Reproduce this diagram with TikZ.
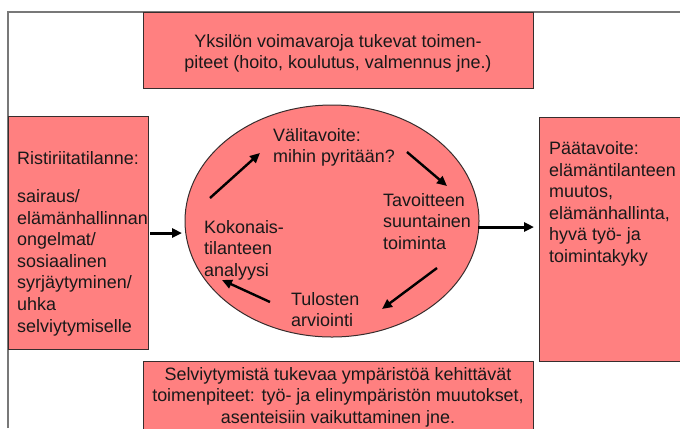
\documentclass[tikz,border=0pt]{standalone}
\usepackage{fontspec}
\setmainfont{Liberation Sans}
\usetikzlibrary{arrows.meta,shapes.geometric}
\definecolor{boxpink}{RGB}{255,128,128}
\definecolor{edgecol}{RGB}{55,45,45}
\definecolor{framegray}{RGB}{120,120,120}
\begin{document}
\begin{tikzpicture}[x=1bp,y=-1bp,
  box/.style={draw=edgecol, line width=1bp, fill=boxpink, inner sep=0pt},
  txt/.style={font=\fontsize{18}{21.7}\selectfont, inner sep=0pt, text=black!90},
  flow/.style={line width=2.4bp, -{Triangle[length=10bp,width=9bp]}},
]
\useasboundingbox (0,0) rectangle (680,428);
\draw[framegray, line width=1.5bp] (8,428) -- (8,12) -- (680,12);

% boxes
\node[box, anchor=north west, minimum width=390bp, minimum height=76bp] (topbox) at (143,12) {};
\node[box, anchor=north west, minimum width=140bp, minimum height=233bp] (leftbox) at (8,116) {};
\node[box, anchor=north west, minimum width=151bp, minimum height=244bp] (rightbox) at (539,117) {};
\node[box, anchor=north west, minimum width=390bp, minimum height=80bp] (botbox) at (143,361) {};
\node[box, ellipse, minimum width=294bp, minimum height=232bp] (cyc) at (332,221) {};

% box texts (base anchor = baseline of last line)
\node[txt, align=center, anchor=base] (toptext) at (338,68.7)
  {Yksilön voimavaroja tukevat toimen-\\piteet (hoito, koulutus, valmennus jne.)};
\node[txt, align=center, anchor=base] (bottext) at (338,423.4)
  {Selviytymistä tukevaa ympäristöä kehittävät\\toimenpiteet: työ- ja elinympäristön muutokset,\\asenteisiin vaikuttaminen jne.};
\node[txt, align=left, anchor=base west] (lefttitle) at (17,164) {Ristiriitatilanne:};
\node[txt, align=left, anchor=base west] (lefttext) at (17,332.2)
  {sairaus/\\elämänhallinnan\\ongelmat/\\sosiaalinen\\syrjäytyminen/\\uhka\\selviytymiselle};
\node[txt, align=left, anchor=base west] (righttext) at (549,262.5)
  {Päätavoite:\\elämäntilanteen\\muutos,\\elämänhallinta,\\hyvä työ- ja\\toimintakyky};

% cycle texts
\node[txt, align=left, anchor=base west] (goal) at (273,162.7) {Välitavoite:\\mihin pyritään?};
\node[txt, align=left, anchor=base west] (action) at (383,249.4) {Tavoitteen\\suuntainen\\toiminta};
\node[txt, align=left, anchor=base west] (eval) at (291,326.7) {Tulosten\\arviointi};
\node[txt, align=left, anchor=base west] (analysis) at (204,276.4) {Kokonais-\\tilanteen\\analyysi};

% arrow end points
\coordinate (a1s) at (210,198); \coordinate (a1e) at (260,153);
\coordinate (a2s) at (407,152); \coordinate (a2e) at (447,186);
\coordinate (a3s) at (437,268); \coordinate (a3e) at (382,309);
\coordinate (a4s) at (270,302); \coordinate (a4e) at (222,280);
\coordinate (ls) at (150,233); \coordinate (le) at (182,233);
\coordinate (rs) at (478,227); \coordinate (re) at (534,227);

\draw[flow] (a1s) -- (a1e);
\draw[flow] (a2s) -- (a2e);
\draw[flow] (a3s) -- (a3e);
\draw[flow] (a4s) -- (a4e);
\draw[flow, line width=3bp] (ls) -- (le);
\draw[flow, line width=3bp] (rs) -- (re);
\end{tikzpicture}
\end{document}
